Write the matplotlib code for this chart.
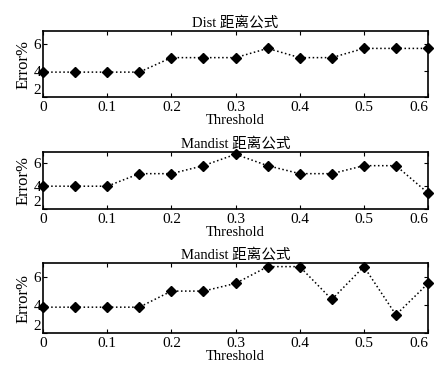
import numpy as np
import matplotlib.pyplot as plt

plt.rcParams['font.family'] = ['Liberation Serif', 'Noto Sans CJK SC']
plt.rcParams['font.size'] = 11

threshold = [0, 0.05, 0.1, 0.15, 0.2, 0.25, 0.3, 0.35, 0.4, 0.45, 0.5, 0.55, 0.6]
err_dist = [3.9, 3.9, 3.9, 3.9, 5.0, 5.0, 5.0, 5.7, 5.0, 5.0, 5.7, 5.7, 5.7]
err_mandist1 = [4.0, 4.0, 4.0, 5.1, 5.1, 5.8, 6.8, 5.8, 5.1, 5.1, 5.8, 5.8, 3.4]
err_mandist2 = [3.85, 3.85, 3.85, 3.85, 5.0, 5.0, 5.55, 6.75, 6.75, 4.4, 6.75, 3.3, 5.55]

titles = ["Dist 距离公式", "Mandist 距离公式", "Mandist 距离公式"]
series = [err_dist, err_mandist1, err_mandist2]
# left, bottom, width, height
boxes = [[0.099, 0.736, 0.885, 0.179],
         [0.099, 0.432, 0.885, 0.155],
         [0.099, 0.095, 0.885, 0.19]]

fig = plt.figure(figsize=(4.35, 3.68), dpi=100)
for title, vals, box in zip(titles, series, boxes):
    ax = fig.add_axes(box)
    ax.plot(threshold, vals, color="black", linestyle=":", linewidth=1.1,
            marker="D", markersize=5, markerfacecolor="black", clip_on=False)
    ax.set_xlim(0, 0.6)
    ax.set_ylim(2, 7)
    ax.set_xticks(np.arange(0, 0.61, 0.1))
    ax.set_xticklabels(["0", "0.1", "0.2", "0.3", "0.4", "0.5", "0.6"])
    ax.get_xticklabels()[-1].set_horizontalalignment("right")
    ax.set_yticks([2, 4, 6])
    ax.tick_params(direction="in", top=True, right=True, length=3)
    ax.tick_params(axis="x", pad=3)
    ax.tick_params(axis="y", pad=1.5)
    ax.get_yticklabels()[0].set_verticalalignment("bottom")
    ax.set_title(title, fontsize=10.5, pad=3)
    ax.set_xlabel("Threshold", fontsize=10.5, labelpad=0)
    ax.set_ylabel("Error%", fontsize=12, labelpad=1)
    for s in ax.spines.values():
        s.set_linewidth(1.2)

fig.savefig("out.png", dpi=100)
